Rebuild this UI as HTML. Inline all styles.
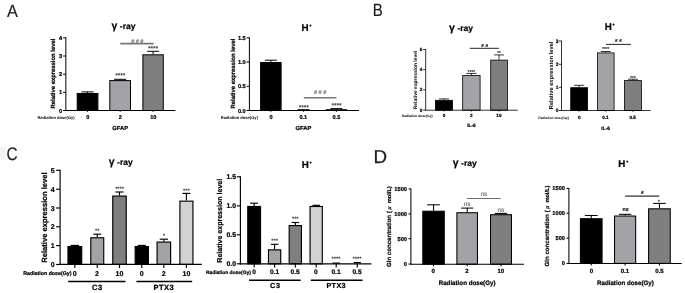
<!DOCTYPE html>
<html><head><meta charset="utf-8"><title>Figure</title>
<style>html,body{margin:0;padding:0;background:#fff}svg{display:block}text{font-family:"Liberation Sans", sans-serif;text-rendering:geometricPrecision}</style>
</head><body>
<svg width="685" height="293" viewBox="0 0 685 293">
<defs><filter id="soft" x="0" y="0" width="685" height="293" filterUnits="userSpaceOnUse"><feGaussianBlur stdDeviation="0.4"/></filter></defs>
<rect width="685" height="293" fill="#fff"/>
<g filter="url(#soft)">
<line x1="87.55" y1="93.00" x2="87.55" y2="91.90" stroke="#000" stroke-width="1.0"/>
<line x1="81.47" y1="91.90" x2="93.63" y2="91.90" stroke="#000" stroke-width="1.0"/>
<rect x="77.20" y="93.50" width="20.70" height="17.00" fill="#000" stroke="#000" stroke-width="1.0"/>
<line x1="120.15" y1="80.10" x2="120.15" y2="79.30" stroke="#000" stroke-width="1.0"/>
<line x1="114.07" y1="79.30" x2="126.23" y2="79.30" stroke="#000" stroke-width="1.0"/>
<rect x="109.80" y="80.60" width="20.70" height="29.90" fill="#a3a2a7" stroke="#000" stroke-width="1.0"/>
<line x1="153.10" y1="54.30" x2="153.10" y2="51.30" stroke="#000" stroke-width="1.0"/>
<line x1="147.11" y1="51.30" x2="159.09" y2="51.30" stroke="#000" stroke-width="1.0"/>
<rect x="142.90" y="54.80" width="20.40" height="55.70" fill="#7f7f7f" stroke="#000" stroke-width="1.0"/>
<line x1="65.85" y1="37.35" x2="65.85" y2="111.00" stroke="#000" stroke-width="1.0"/>
<line x1="65.35" y1="110.50" x2="175.40" y2="110.50" stroke="#000" stroke-width="1.0"/>
<line x1="63.05" y1="110.50" x2="65.85" y2="110.50" stroke="#000" stroke-width="1.0"/>
<text x="62.25" y="112.55" font-size="5.7" font-weight="bold" text-anchor="end" fill="#000" stroke="#000" stroke-width="0.22" >0</text>
<line x1="63.05" y1="92.35" x2="65.85" y2="92.35" stroke="#000" stroke-width="1.0"/>
<text x="62.25" y="94.40" font-size="5.7" font-weight="bold" text-anchor="end" fill="#000" stroke="#000" stroke-width="0.22" >1</text>
<line x1="63.05" y1="74.20" x2="65.85" y2="74.20" stroke="#000" stroke-width="1.0"/>
<text x="62.25" y="76.25" font-size="5.7" font-weight="bold" text-anchor="end" fill="#000" stroke="#000" stroke-width="0.22" >2</text>
<line x1="63.05" y1="56.00" x2="65.85" y2="56.00" stroke="#000" stroke-width="1.0"/>
<text x="62.25" y="58.05" font-size="5.7" font-weight="bold" text-anchor="end" fill="#000" stroke="#000" stroke-width="0.22" >3</text>
<line x1="63.05" y1="37.85" x2="65.85" y2="37.85" stroke="#000" stroke-width="1.0"/>
<text x="62.25" y="39.90" font-size="5.7" font-weight="bold" text-anchor="end" fill="#000" stroke="#000" stroke-width="0.22" >4</text>
<line x1="87.55" y1="110.50" x2="87.55" y2="111.80" stroke="#000" stroke-width="1.0"/>
<line x1="120.15" y1="110.50" x2="120.15" y2="111.80" stroke="#000" stroke-width="1.0"/>
<line x1="153.10" y1="110.50" x2="153.10" y2="111.80" stroke="#000" stroke-width="1.0"/>
<text x="111.40" y="28.90" font-size="10.5" font-weight="bold" text-anchor="start" fill="#000" stroke="#000" stroke-width="0.22" >γ</text>
<text x="119.80" y="28.90" font-size="8.5" font-weight="bold" text-anchor="start" fill="#000" stroke="#000" stroke-width="0.22" >-ray</text>
<text x="55.40" y="73.55" font-size="6.0" font-weight="bold" text-anchor="middle" fill="#000" stroke="#000" stroke-width="0.22" textLength="69.90" lengthAdjust="spacingAndGlyphs" transform="rotate(-90 55.40 73.55)" >Relative expression level</text>
<text x="87.80" y="119.22" font-size="5.6" font-weight="bold" text-anchor="middle" fill="#000" stroke="#000" stroke-width="0.22" >0</text>
<text x="120.40" y="119.22" font-size="5.6" font-weight="bold" text-anchor="middle" fill="#000" stroke="#000" stroke-width="0.22" >2</text>
<text x="153.30" y="119.22" font-size="5.6" font-weight="bold" text-anchor="middle" fill="#000" stroke="#000" stroke-width="0.22" >10</text>
<text x="56.05" y="118.68" font-size="4.1" font-weight="bold" text-anchor="middle" fill="#000" textLength="37.30" lengthAdjust="spacingAndGlyphs" stroke="none">Radiation dose(Gy)</text>
<text x="120.20" y="130.39" font-size="5.8" font-weight="bold" text-anchor="middle" fill="#000" stroke="#000" stroke-width="0.22" >GFAP</text>
<line x1="270.85" y1="62.00" x2="270.85" y2="60.20" stroke="#000" stroke-width="1.0"/>
<line x1="264.83" y1="60.20" x2="276.87" y2="60.20" stroke="#000" stroke-width="1.0"/>
<rect x="260.60" y="62.50" width="20.50" height="48.00" fill="#000" stroke="#000" stroke-width="1.0"/>
<line x1="303.55" y1="110.40" x2="303.55" y2="109.70" stroke="#000" stroke-width="1.0"/>
<line x1="297.53" y1="109.70" x2="309.57" y2="109.70" stroke="#000" stroke-width="1.0"/>
<rect x="293.30" y="110.90" width="20.50" height="-0.40" fill="#a3a2a7" stroke="#000" stroke-width="1.0"/>
<line x1="336.40" y1="109.20" x2="336.40" y2="108.60" stroke="#000" stroke-width="1.0"/>
<line x1="330.46" y1="108.60" x2="342.34" y2="108.60" stroke="#000" stroke-width="1.0"/>
<rect x="326.30" y="109.70" width="20.20" height="0.80" fill="#7f7f7f" stroke="#000" stroke-width="1.0"/>
<line x1="249.40" y1="37.35" x2="249.40" y2="111.00" stroke="#000" stroke-width="1.0"/>
<line x1="248.90" y1="110.50" x2="359.00" y2="110.50" stroke="#000" stroke-width="1.0"/>
<line x1="246.60" y1="110.50" x2="249.40" y2="110.50" stroke="#000" stroke-width="1.0"/>
<text x="245.80" y="112.55" font-size="5.7" font-weight="bold" text-anchor="end" fill="#000" stroke="#000" stroke-width="0.22" >0.0</text>
<line x1="246.60" y1="86.30" x2="249.40" y2="86.30" stroke="#000" stroke-width="1.0"/>
<text x="245.80" y="88.35" font-size="5.7" font-weight="bold" text-anchor="end" fill="#000" stroke="#000" stroke-width="0.22" >0.5</text>
<line x1="246.60" y1="62.00" x2="249.40" y2="62.00" stroke="#000" stroke-width="1.0"/>
<text x="245.80" y="64.05" font-size="5.7" font-weight="bold" text-anchor="end" fill="#000" stroke="#000" stroke-width="0.22" >1.0</text>
<line x1="246.60" y1="37.85" x2="249.40" y2="37.85" stroke="#000" stroke-width="1.0"/>
<text x="245.80" y="39.90" font-size="5.7" font-weight="bold" text-anchor="end" fill="#000" stroke="#000" stroke-width="0.22" >1.5</text>
<line x1="270.85" y1="110.50" x2="270.85" y2="111.80" stroke="#000" stroke-width="1.0"/>
<line x1="303.55" y1="110.50" x2="303.55" y2="111.80" stroke="#000" stroke-width="1.0"/>
<line x1="336.40" y1="110.50" x2="336.40" y2="111.80" stroke="#000" stroke-width="1.0"/>
<text x="301.60" y="30.75" font-size="9.8" font-weight="bold" text-anchor="start" fill="#000" stroke="#000" stroke-width="0.22" >H</text>
<text x="310.55" y="27.05" font-size="4.1" font-weight="bold" text-anchor="middle" fill="#000" stroke="#000" stroke-width="0.3">+</text>
<text x="234.60" y="73.55" font-size="6.0" font-weight="bold" text-anchor="middle" fill="#000" stroke="#000" stroke-width="0.22" textLength="69.90" lengthAdjust="spacingAndGlyphs" transform="rotate(-90 234.60 73.55)" >Relative expression level</text>
<text x="271.00" y="119.22" font-size="5.6" font-weight="bold" text-anchor="middle" fill="#000" stroke="#000" stroke-width="0.22" >0</text>
<text x="303.30" y="119.22" font-size="5.6" font-weight="bold" text-anchor="middle" fill="#000" stroke="#000" stroke-width="0.22" >0.1</text>
<text x="336.40" y="119.22" font-size="5.6" font-weight="bold" text-anchor="middle" fill="#000" stroke="#000" stroke-width="0.22" >0.5</text>
<text x="239.35" y="118.68" font-size="4.1" font-weight="bold" text-anchor="middle" fill="#000" textLength="37.30" lengthAdjust="spacingAndGlyphs" stroke="none">Radiation dose(Gy)</text>
<text x="303.50" y="130.39" font-size="5.8" font-weight="bold" text-anchor="middle" fill="#000" stroke="#000" stroke-width="0.22" >GFAP</text>
<line x1="443.95" y1="99.90" x2="443.95" y2="98.90" stroke="#000" stroke-width="0.8"/>
<line x1="438.94" y1="98.90" x2="448.96" y2="98.90" stroke="#000" stroke-width="0.8"/>
<rect x="435.40" y="100.30" width="17.10" height="9.90" fill="#000" stroke="#000" stroke-width="0.8"/>
<line x1="471.40" y1="75.20" x2="471.40" y2="73.40" stroke="#000" stroke-width="0.8"/>
<line x1="466.30" y1="73.40" x2="476.50" y2="73.40" stroke="#000" stroke-width="0.8"/>
<rect x="462.70" y="75.60" width="17.40" height="34.60" fill="#a3a2a7" stroke="#000" stroke-width="0.8"/>
<line x1="499.05" y1="59.70" x2="499.05" y2="54.90" stroke="#000" stroke-width="0.8"/>
<line x1="494.15" y1="54.90" x2="503.95" y2="54.90" stroke="#000" stroke-width="0.8"/>
<rect x="490.70" y="60.10" width="16.70" height="50.10" fill="#7f7f7f" stroke="#000" stroke-width="0.8"/>
<line x1="425.70" y1="49.10" x2="425.70" y2="110.60" stroke="#000" stroke-width="0.8"/>
<line x1="425.30" y1="110.20" x2="517.80" y2="110.20" stroke="#000" stroke-width="0.8"/>
<line x1="423.10" y1="110.00" x2="425.70" y2="110.00" stroke="#000" stroke-width="0.8"/>
<text x="422.30" y="111.69" font-size="4.7" font-weight="bold" text-anchor="end" fill="#000" stroke="#000" stroke-width="0.22" >0</text>
<line x1="423.10" y1="89.80" x2="425.70" y2="89.80" stroke="#000" stroke-width="0.8"/>
<text x="422.30" y="91.49" font-size="4.7" font-weight="bold" text-anchor="end" fill="#000" stroke="#000" stroke-width="0.22" >2</text>
<line x1="423.10" y1="69.60" x2="425.70" y2="69.60" stroke="#000" stroke-width="0.8"/>
<text x="422.30" y="71.29" font-size="4.7" font-weight="bold" text-anchor="end" fill="#000" stroke="#000" stroke-width="0.22" >4</text>
<line x1="423.10" y1="49.50" x2="425.70" y2="49.50" stroke="#000" stroke-width="0.8"/>
<text x="422.30" y="51.19" font-size="4.7" font-weight="bold" text-anchor="end" fill="#000" stroke="#000" stroke-width="0.22" >6</text>
<line x1="443.95" y1="110.20" x2="443.95" y2="111.50" stroke="#000" stroke-width="0.8"/>
<line x1="471.40" y1="110.20" x2="471.40" y2="111.50" stroke="#000" stroke-width="0.8"/>
<line x1="499.05" y1="110.20" x2="499.05" y2="111.50" stroke="#000" stroke-width="0.8"/>
<text x="449.00" y="30.90" font-size="10.5" font-weight="bold" text-anchor="start" fill="#000" stroke="#000" stroke-width="0.22" >γ</text>
<text x="457.40" y="30.90" font-size="8.5" font-weight="bold" text-anchor="start" fill="#000" stroke="#000" stroke-width="0.22" >-ray</text>
<text x="416.75" y="79.95" font-size="5.0" font-weight="bold" text-anchor="middle" fill="#000" textLength="58.50" lengthAdjust="spacingAndGlyphs" transform="rotate(-90 416.75 79.95)" stroke="none">Relative expression level</text>
<text x="444.00" y="116.96" font-size="4.6" font-weight="bold" text-anchor="middle" fill="#000" stroke="#000" stroke-width="0.22" >0</text>
<text x="471.40" y="116.96" font-size="4.6" font-weight="bold" text-anchor="middle" fill="#000" stroke="#000" stroke-width="0.22" >2</text>
<text x="498.90" y="116.96" font-size="4.6" font-weight="bold" text-anchor="middle" fill="#000" stroke="#000" stroke-width="0.22" >10</text>
<text x="417.20" y="116.52" font-size="3.4" font-weight="bold" text-anchor="middle" fill="#000" textLength="31.00" lengthAdjust="spacingAndGlyphs" stroke="none">Radiation dose(Gy)</text>
<text x="471.40" y="126.93" font-size="4.8" font-weight="bold" text-anchor="middle" fill="#000" stroke="#000" stroke-width="0.22" >IL-6</text>
<line x1="579.15" y1="87.30" x2="579.15" y2="85.30" stroke="#000" stroke-width="0.8"/>
<line x1="574.19" y1="85.30" x2="584.11" y2="85.30" stroke="#000" stroke-width="0.8"/>
<rect x="570.70" y="87.70" width="16.90" height="22.80" fill="#000" stroke="#000" stroke-width="0.8"/>
<line x1="605.75" y1="52.50" x2="605.75" y2="51.50" stroke="#000" stroke-width="0.8"/>
<line x1="600.85" y1="51.50" x2="610.65" y2="51.50" stroke="#000" stroke-width="0.8"/>
<rect x="597.40" y="52.90" width="16.70" height="57.60" fill="#a3a2a7" stroke="#000" stroke-width="0.8"/>
<line x1="632.95" y1="80.20" x2="632.95" y2="79.20" stroke="#000" stroke-width="0.8"/>
<line x1="627.99" y1="79.20" x2="637.91" y2="79.20" stroke="#000" stroke-width="0.8"/>
<rect x="624.50" y="80.60" width="16.90" height="29.90" fill="#7f7f7f" stroke="#000" stroke-width="0.8"/>
<line x1="561.50" y1="40.60" x2="561.50" y2="110.90" stroke="#000" stroke-width="0.8"/>
<line x1="561.10" y1="110.50" x2="650.60" y2="110.50" stroke="#000" stroke-width="0.8"/>
<line x1="558.90" y1="110.50" x2="561.50" y2="110.50" stroke="#000" stroke-width="0.8"/>
<text x="558.40" y="112.26" font-size="4.9" font-weight="bold" text-anchor="end" fill="#000" stroke="#000" stroke-width="0.22" >0</text>
<line x1="558.90" y1="87.30" x2="561.50" y2="87.30" stroke="#000" stroke-width="0.8"/>
<text x="558.40" y="89.06" font-size="4.9" font-weight="bold" text-anchor="end" fill="#000" stroke="#000" stroke-width="0.22" >1</text>
<line x1="558.90" y1="64.30" x2="561.50" y2="64.30" stroke="#000" stroke-width="0.8"/>
<text x="558.40" y="66.06" font-size="4.9" font-weight="bold" text-anchor="end" fill="#000" stroke="#000" stroke-width="0.22" >2</text>
<line x1="558.90" y1="41.00" x2="561.50" y2="41.00" stroke="#000" stroke-width="0.8"/>
<text x="558.40" y="42.76" font-size="4.9" font-weight="bold" text-anchor="end" fill="#000" stroke="#000" stroke-width="0.22" >3</text>
<line x1="579.15" y1="110.50" x2="579.15" y2="111.80" stroke="#000" stroke-width="0.8"/>
<line x1="605.75" y1="110.50" x2="605.75" y2="111.80" stroke="#000" stroke-width="0.8"/>
<line x1="632.95" y1="110.50" x2="632.95" y2="111.80" stroke="#000" stroke-width="0.8"/>
<text x="604.70" y="30.05" font-size="9.8" font-weight="bold" text-anchor="start" fill="#000" stroke="#000" stroke-width="0.22" >H</text>
<text x="613.65" y="26.35" font-size="4.1" font-weight="bold" text-anchor="middle" fill="#000" stroke="#000" stroke-width="0.3">+</text>
<text x="553.39" y="75.40" font-size="5.7" font-weight="bold" text-anchor="middle" fill="#000" textLength="67.60" lengthAdjust="spacingAndGlyphs" transform="rotate(-90 553.39 75.40)" stroke="none">Relative expression level</text>
<text x="579.20" y="119.26" font-size="4.6" font-weight="bold" text-anchor="middle" fill="#000" stroke="#000" stroke-width="0.22" >0</text>
<text x="605.40" y="119.26" font-size="4.6" font-weight="bold" text-anchor="middle" fill="#000" stroke="#000" stroke-width="0.22" >0.1</text>
<text x="632.70" y="119.26" font-size="4.6" font-weight="bold" text-anchor="middle" fill="#000" stroke="#000" stroke-width="0.22" >0.5</text>
<text x="553.65" y="118.82" font-size="3.4" font-weight="bold" text-anchor="middle" fill="#000" textLength="30.70" lengthAdjust="spacingAndGlyphs" stroke="none">Radiation dose(Gy)</text>
<text x="605.70" y="130.36" font-size="4.9" font-weight="bold" text-anchor="middle" fill="#000" stroke="#000" stroke-width="0.22" >IL-6</text>
<line x1="74.85" y1="246.00" x2="74.85" y2="245.40" stroke="#000" stroke-width="1.15"/>
<line x1="70.68" y1="245.40" x2="79.02" y2="245.40" stroke="#000" stroke-width="1.15"/>
<rect x="67.98" y="246.57" width="13.75" height="17.82" fill="#000" stroke="#000" stroke-width="1.15"/>
<line x1="97.25" y1="237.20" x2="97.25" y2="234.20" stroke="#000" stroke-width="1.15"/>
<line x1="93.30" y1="234.20" x2="101.20" y2="234.20" stroke="#000" stroke-width="1.15"/>
<rect x="90.78" y="237.77" width="12.95" height="26.62" fill="#a3a2a7" stroke="#000" stroke-width="1.15"/>
<line x1="119.50" y1="195.50" x2="119.50" y2="192.00" stroke="#000" stroke-width="1.15"/>
<line x1="115.41" y1="192.00" x2="123.59" y2="192.00" stroke="#000" stroke-width="1.15"/>
<rect x="112.78" y="196.07" width="13.45" height="68.32" fill="#7f7f7f" stroke="#000" stroke-width="1.15"/>
<line x1="141.80" y1="246.00" x2="141.80" y2="245.40" stroke="#000" stroke-width="1.15"/>
<line x1="137.77" y1="245.40" x2="145.83" y2="245.40" stroke="#000" stroke-width="1.15"/>
<rect x="135.17" y="246.57" width="13.25" height="17.82" fill="#000" stroke="#000" stroke-width="1.15"/>
<line x1="163.85" y1="241.50" x2="163.85" y2="239.20" stroke="#000" stroke-width="1.15"/>
<line x1="159.73" y1="239.20" x2="167.97" y2="239.20" stroke="#000" stroke-width="1.15"/>
<rect x="157.07" y="242.07" width="13.55" height="22.32" fill="#a3a2a7" stroke="#000" stroke-width="1.15"/>
<line x1="186.40" y1="200.60" x2="186.40" y2="193.40" stroke="#000" stroke-width="1.15"/>
<line x1="182.42" y1="193.40" x2="190.38" y2="193.40" stroke="#000" stroke-width="1.15"/>
<rect x="179.88" y="201.17" width="13.05" height="63.22" fill="#d2d2d2" stroke="#000" stroke-width="1.15"/>
<line x1="60.10" y1="169.73" x2="60.10" y2="264.97" stroke="#000" stroke-width="1.15"/>
<line x1="59.52" y1="264.40" x2="201.80" y2="264.40" stroke="#000" stroke-width="1.15"/>
<line x1="56.10" y1="264.50" x2="60.10" y2="264.50" stroke="#000" stroke-width="1.15"/>
<text x="54.70" y="267.02" font-size="7" font-weight="bold" text-anchor="end" fill="#000" stroke="#000" stroke-width="0.22" >0</text>
<line x1="56.10" y1="245.60" x2="60.10" y2="245.60" stroke="#000" stroke-width="1.15"/>
<text x="54.70" y="248.12" font-size="7" font-weight="bold" text-anchor="end" fill="#000" stroke="#000" stroke-width="0.22" >1</text>
<line x1="56.10" y1="226.80" x2="60.10" y2="226.80" stroke="#000" stroke-width="1.15"/>
<text x="54.70" y="229.32" font-size="7" font-weight="bold" text-anchor="end" fill="#000" stroke="#000" stroke-width="0.22" >2</text>
<line x1="56.10" y1="208.00" x2="60.10" y2="208.00" stroke="#000" stroke-width="1.15"/>
<text x="54.70" y="210.52" font-size="7" font-weight="bold" text-anchor="end" fill="#000" stroke="#000" stroke-width="0.22" >3</text>
<line x1="56.10" y1="189.20" x2="60.10" y2="189.20" stroke="#000" stroke-width="1.15"/>
<text x="54.70" y="191.72" font-size="7" font-weight="bold" text-anchor="end" fill="#000" stroke="#000" stroke-width="0.22" >4</text>
<line x1="56.10" y1="170.30" x2="60.10" y2="170.30" stroke="#000" stroke-width="1.15"/>
<text x="54.70" y="172.82" font-size="7" font-weight="bold" text-anchor="end" fill="#000" stroke="#000" stroke-width="0.22" >5</text>
<line x1="74.85" y1="264.40" x2="74.85" y2="268.00" stroke="#000" stroke-width="1.15"/>
<line x1="97.25" y1="264.40" x2="97.25" y2="268.00" stroke="#000" stroke-width="1.15"/>
<line x1="119.50" y1="264.40" x2="119.50" y2="268.00" stroke="#000" stroke-width="1.15"/>
<line x1="141.80" y1="264.40" x2="141.80" y2="268.00" stroke="#000" stroke-width="1.15"/>
<line x1="163.85" y1="264.40" x2="163.85" y2="268.00" stroke="#000" stroke-width="1.15"/>
<line x1="186.40" y1="264.40" x2="186.40" y2="268.00" stroke="#000" stroke-width="1.15"/>
<text x="108.70" y="165.30" font-size="10.5" font-weight="bold" text-anchor="start" fill="#000" stroke="#000" stroke-width="0.22" >γ</text>
<text x="117.10" y="165.30" font-size="8.5" font-weight="bold" text-anchor="start" fill="#000" stroke="#000" stroke-width="0.22" >-ray</text>
<text x="46.68" y="217.55" font-size="7.65" font-weight="bold" text-anchor="middle" fill="#000" stroke="#000" stroke-width="0.22" textLength="90.30" lengthAdjust="spacingAndGlyphs" transform="rotate(-90 46.68 217.55)" >Relative expression level</text>
<text x="74.70" y="275.82" font-size="7" font-weight="bold" text-anchor="middle" fill="#000" stroke="#000" stroke-width="0.22" >0</text>
<text x="97.00" y="275.82" font-size="7" font-weight="bold" text-anchor="middle" fill="#000" stroke="#000" stroke-width="0.22" >2</text>
<text x="119.40" y="275.82" font-size="7" font-weight="bold" text-anchor="middle" fill="#000" stroke="#000" stroke-width="0.22" >10</text>
<text x="141.70" y="275.82" font-size="7" font-weight="bold" text-anchor="middle" fill="#000" stroke="#000" stroke-width="0.22" >0</text>
<text x="163.60" y="275.82" font-size="7" font-weight="bold" text-anchor="middle" fill="#000" stroke="#000" stroke-width="0.22" >2</text>
<text x="186.40" y="275.82" font-size="7" font-weight="bold" text-anchor="middle" fill="#000" stroke="#000" stroke-width="0.22" >10</text>
<text x="47.35" y="275.21" font-size="5.3" font-weight="bold" text-anchor="middle" fill="#000" stroke="#000" stroke-width="0.22" textLength="48.30" lengthAdjust="spacingAndGlyphs" >Radiation dose(Gy)</text>
<text x="97.50" y="290.14" font-size="7.6" font-weight="bold" text-anchor="middle" fill="#000" stroke="#000" stroke-width="0.22" letter-spacing="0.6">C3</text>
<text x="163.80" y="290.14" font-size="7.6" font-weight="bold" text-anchor="middle" fill="#000" stroke="#000" stroke-width="0.22" letter-spacing="0.4">PTX3</text>
<line x1="68.20" y1="281.50" x2="125.50" y2="281.50" stroke="#000" stroke-width="1.5"/>
<line x1="136.40" y1="281.50" x2="192.20" y2="281.50" stroke="#000" stroke-width="1.5"/>
<line x1="254.15" y1="205.90" x2="254.15" y2="203.20" stroke="#000" stroke-width="1.15"/>
<line x1="250.26" y1="203.20" x2="258.04" y2="203.20" stroke="#000" stroke-width="1.15"/>
<rect x="247.77" y="206.47" width="12.75" height="57.33" fill="#000" stroke="#000" stroke-width="1.15"/>
<line x1="274.60" y1="249.30" x2="274.60" y2="244.30" stroke="#000" stroke-width="1.15"/>
<line x1="270.85" y1="244.30" x2="278.35" y2="244.30" stroke="#000" stroke-width="1.15"/>
<rect x="268.47" y="249.88" width="12.25" height="13.93" fill="#a3a2a7" stroke="#000" stroke-width="1.15"/>
<line x1="295.30" y1="225.00" x2="295.30" y2="222.50" stroke="#000" stroke-width="1.15"/>
<line x1="291.55" y1="222.50" x2="299.05" y2="222.50" stroke="#000" stroke-width="1.15"/>
<rect x="289.18" y="225.57" width="12.25" height="38.23" fill="#7f7f7f" stroke="#000" stroke-width="1.15"/>
<line x1="316.20" y1="205.90" x2="316.20" y2="205.30" stroke="#000" stroke-width="1.15"/>
<line x1="312.45" y1="205.30" x2="319.95" y2="205.30" stroke="#000" stroke-width="1.15"/>
<rect x="310.07" y="206.47" width="12.25" height="57.33" fill="#d2d2d2" stroke="#000" stroke-width="1.15"/>
<line x1="336.20" y1="263.80" x2="336.20" y2="263.10" stroke="#000" stroke-width="1.15"/>
<line x1="332.45" y1="263.10" x2="339.95" y2="263.10" stroke="#000" stroke-width="1.15"/>
<rect x="330.07" y="264.38" width="12.25" height="-0.57" fill="#a3a2a7" stroke="#000" stroke-width="1.15"/>
<line x1="357.25" y1="263.30" x2="357.25" y2="262.60" stroke="#000" stroke-width="1.15"/>
<line x1="353.58" y1="262.60" x2="360.92" y2="262.60" stroke="#000" stroke-width="1.15"/>
<rect x="351.27" y="263.88" width="11.95" height="-0.07" fill="#7f7f7f" stroke="#000" stroke-width="1.15"/>
<line x1="240.40" y1="176.23" x2="240.40" y2="264.38" stroke="#000" stroke-width="1.15"/>
<line x1="239.83" y1="263.80" x2="371.40" y2="263.80" stroke="#000" stroke-width="1.15"/>
<line x1="236.80" y1="263.80" x2="240.40" y2="263.80" stroke="#000" stroke-width="1.15"/>
<text x="236.00" y="266.25" font-size="6.8" font-weight="bold" text-anchor="end" fill="#000" stroke="#000" stroke-width="0.22" >0.0</text>
<line x1="236.80" y1="234.80" x2="240.40" y2="234.80" stroke="#000" stroke-width="1.15"/>
<text x="236.00" y="237.25" font-size="6.8" font-weight="bold" text-anchor="end" fill="#000" stroke="#000" stroke-width="0.22" >0.5</text>
<line x1="236.80" y1="205.90" x2="240.40" y2="205.90" stroke="#000" stroke-width="1.15"/>
<text x="236.00" y="208.35" font-size="6.8" font-weight="bold" text-anchor="end" fill="#000" stroke="#000" stroke-width="0.22" >1.0</text>
<line x1="236.80" y1="176.80" x2="240.40" y2="176.80" stroke="#000" stroke-width="1.15"/>
<text x="236.00" y="179.25" font-size="6.8" font-weight="bold" text-anchor="end" fill="#000" stroke="#000" stroke-width="0.22" >1.5</text>
<line x1="254.15" y1="263.80" x2="254.15" y2="267.40" stroke="#000" stroke-width="1.15"/>
<line x1="274.60" y1="263.80" x2="274.60" y2="267.40" stroke="#000" stroke-width="1.15"/>
<line x1="295.30" y1="263.80" x2="295.30" y2="267.40" stroke="#000" stroke-width="1.15"/>
<line x1="316.20" y1="263.80" x2="316.20" y2="267.40" stroke="#000" stroke-width="1.15"/>
<line x1="336.20" y1="263.80" x2="336.20" y2="267.40" stroke="#000" stroke-width="1.15"/>
<line x1="357.25" y1="263.80" x2="357.25" y2="267.40" stroke="#000" stroke-width="1.15"/>
<text x="301.80" y="167.55" font-size="9.8" font-weight="bold" text-anchor="start" fill="#000" stroke="#000" stroke-width="0.22" >H</text>
<text x="310.75" y="163.85" font-size="4.1" font-weight="bold" text-anchor="middle" fill="#000" stroke="#000" stroke-width="0.3">+</text>
<text x="222.00" y="220.75" font-size="7.15" font-weight="bold" text-anchor="middle" fill="#000" stroke="#000" stroke-width="0.22" textLength="83.90" lengthAdjust="spacingAndGlyphs" transform="rotate(-90 222.00 220.75)" >Relative expression level</text>
<text x="254.00" y="274.38" font-size="6.6" font-weight="bold" text-anchor="middle" fill="#000" stroke="#000" stroke-width="0.22" >0</text>
<text x="274.70" y="274.38" font-size="6.6" font-weight="bold" text-anchor="middle" fill="#000" stroke="#000" stroke-width="0.22" >0.1</text>
<text x="295.20" y="274.38" font-size="6.6" font-weight="bold" text-anchor="middle" fill="#000" stroke="#000" stroke-width="0.22" >0.5</text>
<text x="315.90" y="274.38" font-size="6.6" font-weight="bold" text-anchor="middle" fill="#000" stroke="#000" stroke-width="0.22" >0</text>
<text x="336.00" y="274.38" font-size="6.6" font-weight="bold" text-anchor="middle" fill="#000" stroke="#000" stroke-width="0.22" >0.1</text>
<text x="357.00" y="274.38" font-size="6.6" font-weight="bold" text-anchor="middle" fill="#000" stroke="#000" stroke-width="0.22" >0.5</text>
<text x="228.40" y="274.26" font-size="4.9" font-weight="bold" text-anchor="middle" fill="#000" stroke="#000" stroke-width="0.22" textLength="44.80" lengthAdjust="spacingAndGlyphs" >Radiation dose(Gy)</text>
<text x="275.30" y="288.19" font-size="7.2" font-weight="bold" text-anchor="middle" fill="#000" stroke="#000" stroke-width="0.22" letter-spacing="0.6">C3</text>
<text x="336.20" y="288.19" font-size="7.2" font-weight="bold" text-anchor="middle" fill="#000" stroke="#000" stroke-width="0.22" letter-spacing="0.4">PTX3</text>
<line x1="249.00" y1="280.20" x2="300.70" y2="280.20" stroke="#000" stroke-width="1.5"/>
<line x1="310.80" y1="280.20" x2="362.60" y2="280.20" stroke="#000" stroke-width="1.5"/>
<line x1="433.55" y1="210.70" x2="433.55" y2="204.80" stroke="#000" stroke-width="1.05"/>
<line x1="427.25" y1="204.80" x2="439.85" y2="204.80" stroke="#000" stroke-width="1.05"/>
<rect x="422.82" y="211.22" width="21.45" height="52.97" fill="#000" stroke="#000" stroke-width="1.05"/>
<line x1="467.20" y1="212.20" x2="467.20" y2="208.10" stroke="#000" stroke-width="1.05"/>
<line x1="461.15" y1="208.10" x2="473.25" y2="208.10" stroke="#000" stroke-width="1.05"/>
<rect x="456.92" y="212.72" width="20.55" height="51.47" fill="#a3a2a7" stroke="#000" stroke-width="1.05"/>
<line x1="501.00" y1="214.20" x2="501.00" y2="213.40" stroke="#000" stroke-width="1.05"/>
<line x1="494.84" y1="213.40" x2="507.16" y2="213.40" stroke="#000" stroke-width="1.05"/>
<rect x="490.52" y="214.72" width="20.95" height="49.47" fill="#7f7f7f" stroke="#000" stroke-width="1.05"/>
<line x1="410.90" y1="188.38" x2="410.90" y2="264.72" stroke="#000" stroke-width="1.05"/>
<line x1="410.38" y1="264.20" x2="524.00" y2="264.20" stroke="#000" stroke-width="1.05"/>
<line x1="408.50" y1="264.00" x2="410.90" y2="264.00" stroke="#000" stroke-width="1.05"/>
<text x="407.00" y="266.05" font-size="5.7" font-weight="bold" text-anchor="end" fill="#000" stroke="#000" stroke-width="0.22" >0</text>
<line x1="408.50" y1="238.70" x2="410.90" y2="238.70" stroke="#000" stroke-width="1.05"/>
<text x="407.00" y="240.75" font-size="5.7" font-weight="bold" text-anchor="end" fill="#000" stroke="#000" stroke-width="0.22" >500</text>
<line x1="408.50" y1="213.90" x2="410.90" y2="213.90" stroke="#000" stroke-width="1.05"/>
<text x="407.00" y="215.95" font-size="5.7" font-weight="bold" text-anchor="end" fill="#000" stroke="#000" stroke-width="0.22" >1000</text>
<line x1="408.50" y1="188.90" x2="410.90" y2="188.90" stroke="#000" stroke-width="1.05"/>
<text x="407.00" y="190.95" font-size="5.7" font-weight="bold" text-anchor="end" fill="#000" stroke="#000" stroke-width="0.22" >1500</text>
<line x1="433.55" y1="264.20" x2="433.55" y2="266.20" stroke="#000" stroke-width="1.05"/>
<line x1="467.20" y1="264.20" x2="467.20" y2="266.20" stroke="#000" stroke-width="1.05"/>
<line x1="501.00" y1="264.20" x2="501.00" y2="266.20" stroke="#000" stroke-width="1.05"/>
<text x="452.70" y="165.80" font-size="10.5" font-weight="bold" text-anchor="start" fill="#000" stroke="#000" stroke-width="0.22" >γ</text>
<text x="461.10" y="165.80" font-size="8.5" font-weight="bold" text-anchor="start" fill="#000" stroke="#000" stroke-width="0.22" >-ray</text>
<text transform="translate(390.62 267.00) rotate(-90)" font-size="6.05" font-weight="bold" fill="#000" stroke="#000" stroke-width="0.22"><tspan x="0" textLength="52.1" lengthAdjust="spacingAndGlyphs">Gln concentration</tspan><tspan x="54.1" font-size="5.8">( </tspan><tspan x="57.6" font-size="5.4" font-style="italic" font-weight="normal">μ </tspan><tspan x="63.8" font-size="5.6" textLength="16.9" lengthAdjust="spacingAndGlyphs">mol/L)</tspan></text>
<text x="433.10" y="273.46" font-size="6.0" font-weight="bold" text-anchor="middle" fill="#000" stroke="#000" stroke-width="0.22" >0</text>
<text x="467.00" y="273.46" font-size="6.0" font-weight="bold" text-anchor="middle" fill="#000" stroke="#000" stroke-width="0.22" >2</text>
<text x="500.80" y="273.46" font-size="6.0" font-weight="bold" text-anchor="middle" fill="#000" stroke="#000" stroke-width="0.22" >10</text>
<text x="467.10" y="284.70" font-size="6.4" font-weight="bold" text-anchor="middle" fill="#000" stroke="#000" stroke-width="0.22" textLength="56.80" lengthAdjust="spacingAndGlyphs" >Radiation dose(Gy)</text>
<line x1="591.25" y1="218.20" x2="591.25" y2="215.50" stroke="#000" stroke-width="1.05"/>
<line x1="584.89" y1="215.50" x2="597.61" y2="215.50" stroke="#000" stroke-width="1.05"/>
<rect x="580.42" y="218.72" width="21.65" height="44.67" fill="#000" stroke="#000" stroke-width="1.05"/>
<line x1="625.10" y1="215.50" x2="625.10" y2="214.30" stroke="#000" stroke-width="1.05"/>
<line x1="618.88" y1="214.30" x2="631.32" y2="214.30" stroke="#000" stroke-width="1.05"/>
<rect x="614.52" y="216.03" width="21.15" height="47.37" fill="#a3a2a7" stroke="#000" stroke-width="1.05"/>
<line x1="659.45" y1="208.30" x2="659.45" y2="203.40" stroke="#000" stroke-width="1.05"/>
<line x1="653.09" y1="203.40" x2="665.81" y2="203.40" stroke="#000" stroke-width="1.05"/>
<rect x="648.62" y="208.83" width="21.65" height="54.57" fill="#7f7f7f" stroke="#000" stroke-width="1.05"/>
<line x1="568.90" y1="187.88" x2="568.90" y2="263.92" stroke="#000" stroke-width="1.05"/>
<line x1="568.38" y1="263.40" x2="681.70" y2="263.40" stroke="#000" stroke-width="1.05"/>
<line x1="566.50" y1="263.40" x2="568.90" y2="263.40" stroke="#000" stroke-width="1.05"/>
<text x="565.00" y="265.45" font-size="5.7" font-weight="bold" text-anchor="end" fill="#000" stroke="#000" stroke-width="0.22" >0</text>
<line x1="566.50" y1="238.20" x2="568.90" y2="238.20" stroke="#000" stroke-width="1.05"/>
<text x="565.00" y="240.25" font-size="5.7" font-weight="bold" text-anchor="end" fill="#000" stroke="#000" stroke-width="0.22" >500</text>
<line x1="566.50" y1="213.20" x2="568.90" y2="213.20" stroke="#000" stroke-width="1.05"/>
<text x="565.00" y="215.25" font-size="5.7" font-weight="bold" text-anchor="end" fill="#000" stroke="#000" stroke-width="0.22" >1000</text>
<line x1="566.50" y1="188.40" x2="568.90" y2="188.40" stroke="#000" stroke-width="1.05"/>
<text x="565.00" y="190.45" font-size="5.7" font-weight="bold" text-anchor="end" fill="#000" stroke="#000" stroke-width="0.22" >1500</text>
<line x1="591.25" y1="263.40" x2="591.25" y2="265.40" stroke="#000" stroke-width="1.05"/>
<line x1="625.10" y1="263.40" x2="625.10" y2="265.40" stroke="#000" stroke-width="1.05"/>
<line x1="659.45" y1="263.40" x2="659.45" y2="265.40" stroke="#000" stroke-width="1.05"/>
<text x="618.20" y="166.85" font-size="9.8" font-weight="bold" text-anchor="start" fill="#000" stroke="#000" stroke-width="0.22" >H</text>
<text x="627.15" y="163.15" font-size="4.1" font-weight="bold" text-anchor="middle" fill="#000" stroke="#000" stroke-width="0.3">+</text>
<text transform="translate(548.52 266.40) rotate(-90)" font-size="6.05" font-weight="bold" fill="#000" stroke="#000" stroke-width="0.22"><tspan x="0" textLength="52.1" lengthAdjust="spacingAndGlyphs">Gln concentration</tspan><tspan x="54.1" font-size="5.8">( </tspan><tspan x="57.6" font-size="5.4" font-style="italic" font-weight="normal">μ </tspan><tspan x="63.8" font-size="5.6" textLength="16.9" lengthAdjust="spacingAndGlyphs">mol/L)</tspan></text>
<text x="591.30" y="273.16" font-size="6.0" font-weight="bold" text-anchor="middle" fill="#000" stroke="#000" stroke-width="0.22" >0</text>
<text x="624.90" y="273.16" font-size="6.0" font-weight="bold" text-anchor="middle" fill="#000" stroke="#000" stroke-width="0.22" >0.1</text>
<text x="659.50" y="273.16" font-size="6.0" font-weight="bold" text-anchor="middle" fill="#000" stroke="#000" stroke-width="0.22" >0.5</text>
<text x="625.40" y="284.50" font-size="6.4" font-weight="bold" text-anchor="middle" fill="#000" stroke="#000" stroke-width="0.22" textLength="56.80" lengthAdjust="spacingAndGlyphs" >Radiation dose(Gy)</text>
<text x="120.60" y="76.70" font-size="5.4" font-weight="bold" text-anchor="middle" fill="#444" stroke="#444" stroke-width="0.22" letter-spacing="0.4">****</text>
<text x="153.30" y="49.90" font-size="5.4" font-weight="bold" text-anchor="middle" fill="#444" stroke="#444" stroke-width="0.22" letter-spacing="0.4">****</text>
<line x1="120.30" y1="43.60" x2="153.60" y2="43.60" stroke="#777" stroke-width="1.6"/>
<text x="138.00" y="42.90" font-size="5.3" font-weight="bold" text-anchor="middle" fill="#777" stroke="#777" stroke-width="0.22" font-style="italic" letter-spacing="1.6">###</text>
<text x="303.90" y="109.10" font-size="5.4" font-weight="bold" text-anchor="middle" fill="#444" stroke="#444" stroke-width="0.22" letter-spacing="0.4">****</text>
<text x="336.70" y="106.80" font-size="5.4" font-weight="bold" text-anchor="middle" fill="#444" stroke="#444" stroke-width="0.22" letter-spacing="0.4">****</text>
<line x1="303.80" y1="97.70" x2="336.50" y2="97.70" stroke="#777" stroke-width="1.6"/>
<text x="320.90" y="94.10" font-size="5.3" font-weight="bold" text-anchor="middle" fill="#777" stroke="#777" stroke-width="0.22" font-style="italic" letter-spacing="1.6">###</text>
<text x="471.50" y="72.90" font-size="4.2" font-weight="bold" text-anchor="middle" fill="#444" stroke="#444" stroke-width="0.22" letter-spacing="0.2">****</text>
<text x="499.00" y="53.50" font-size="4.2" font-weight="bold" text-anchor="middle" fill="#444" stroke="#444" stroke-width="0.22" letter-spacing="0.2">**</text>
<line x1="469.80" y1="48.30" x2="498.90" y2="48.30" stroke="#222" stroke-width="1.0"/>
<text x="485.50" y="46.90" font-size="4.4" font-weight="bold" text-anchor="middle" fill="#444" stroke="#444" stroke-width="0.22" font-style="italic" letter-spacing="1.8">##</text>
<text x="605.80" y="50.10" font-size="4.2" font-weight="bold" text-anchor="middle" fill="#444" stroke="#444" stroke-width="0.22" letter-spacing="0.2">****</text>
<text x="633.00" y="78.50" font-size="4.2" font-weight="bold" text-anchor="middle" fill="#444" stroke="#444" stroke-width="0.22" letter-spacing="0.2">***</text>
<line x1="606.00" y1="44.40" x2="630.90" y2="44.40" stroke="#222" stroke-width="1.0"/>
<text x="619.20" y="41.70" font-size="4.4" font-weight="bold" text-anchor="middle" fill="#444" stroke="#444" stroke-width="0.22" font-style="italic" letter-spacing="1.8">##</text>
<text x="97.40" y="231.90" font-size="4.6" font-weight="bold" text-anchor="middle" fill="#444" stroke="#444" stroke-width="0.22" letter-spacing="0.4">**</text>
<text x="119.80" y="190.20" font-size="4.6" font-weight="bold" text-anchor="middle" fill="#444" stroke="#444" stroke-width="0.22" letter-spacing="0.4">****</text>
<text x="164.00" y="236.50" font-size="4.6" font-weight="bold" text-anchor="middle" fill="#444" stroke="#444" stroke-width="0.22" letter-spacing="0.4">*</text>
<text x="186.60" y="191.90" font-size="4.6" font-weight="bold" text-anchor="middle" fill="#444" stroke="#444" stroke-width="0.22" letter-spacing="0.4">***</text>
<text x="274.80" y="241.50" font-size="4.6" font-weight="bold" text-anchor="middle" fill="#444" stroke="#444" stroke-width="0.22" letter-spacing="0.4">***</text>
<text x="295.50" y="219.80" font-size="4.6" font-weight="bold" text-anchor="middle" fill="#444" stroke="#444" stroke-width="0.22" letter-spacing="0.4">***</text>
<text x="336.20" y="259.90" font-size="4.6" font-weight="bold" text-anchor="middle" fill="#444" stroke="#444" stroke-width="0.22" letter-spacing="0.4">****</text>
<text x="357.20" y="259.90" font-size="4.6" font-weight="bold" text-anchor="middle" fill="#444" stroke="#444" stroke-width="0.22" letter-spacing="0.4">****</text>
<text x="467.20" y="205.80" font-size="6.4" font-weight="normal" text-anchor="middle" fill="#444" >ns</text>
<text x="500.80" y="212.00" font-size="6.4" font-weight="normal" text-anchor="middle" fill="#444" >ns</text>
<text x="483.90" y="195.90" font-size="6.4" font-weight="normal" text-anchor="middle" fill="#444" >ns</text>
<line x1="466.90" y1="198.50" x2="500.60" y2="198.50" stroke="#444" stroke-width="0.8"/>
<text x="625.60" y="211.00" font-size="5.3" font-weight="bold" text-anchor="middle" fill="#222" stroke="#222" stroke-width="0.22" >ns</text>
<text x="659.20" y="203.10" font-size="4.6" font-weight="bold" text-anchor="middle" fill="#444" stroke="#444" stroke-width="0.22" letter-spacing="0.4">*</text>
<text x="642.30" y="194.16" font-size="4.6" font-weight="bold" text-anchor="middle" fill="#333" stroke="#333" stroke-width="0.22" font-style="italic" letter-spacing="0">#</text>
<line x1="625.10" y1="196.10" x2="659.30" y2="196.10" stroke="#333" stroke-width="1.1"/>
<rect x="0" y="147.3" width="6" height="12.4" fill="#f2f2f6"/>
<text transform="translate(7.07 16.52) scale(0.926 1)" font-size="17.61" fill="#1a1a1a" stroke="#1a1a1a" stroke-width="0.15">A</text>
<text transform="translate(372.86 15.52) scale(0.848 1)" font-size="17.76" fill="#1a1a1a" stroke="#1a1a1a" stroke-width="0.15">B</text>
<text transform="translate(6.52 159.64) scale(0.841 1)" font-size="18.25" fill="#1a1a1a" stroke="#1a1a1a" stroke-width="0.15">C</text>
<text transform="translate(373.56 162.72) scale(1.008 1)" font-size="18.63" fill="#1a1a1a" stroke="#1a1a1a" stroke-width="0.25">D</text>
</g>
</svg>
</body></html>
